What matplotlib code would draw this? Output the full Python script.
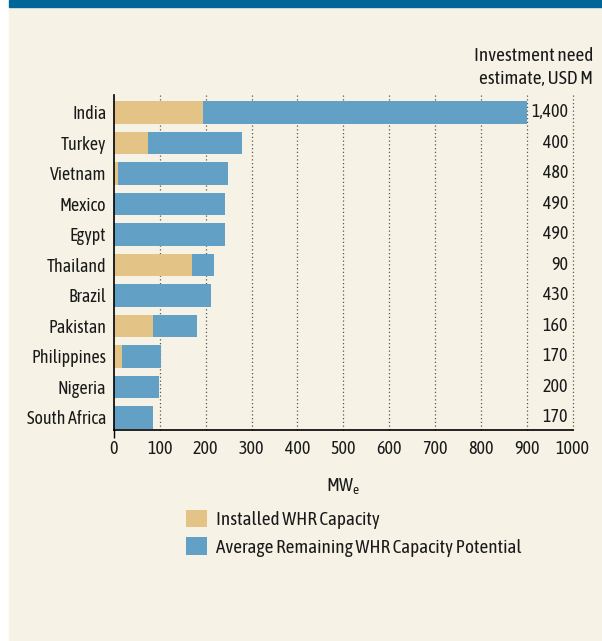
import matplotlib.pyplot as plt
from matplotlib.patches import Rectangle

plt.rcParams['font.family'] = ['Asap Condensed', 'Archivo Narrow', 'DejaVu Sans']
plt.rcParams['mathtext.fontset'] = 'custom'
plt.rcParams['mathtext.rm'] = 'Asap Condensed'

# data (MWe)
countries = ['India', 'Turkey', 'Vietnam', 'Mexico', 'Egypt', 'Thailand',
             'Brazil', 'Pakistan', 'Philippines', 'Nigeria', 'South Africa']
installed = [195, 75, 8, 0, 0, 170, 0, 85, 17, 0, 0]
remaining = [705, 203, 240, 242, 242, 47, 211, 96, 85, 98, 85]
investment = ['1,400', '400', '480', '490', '490', '90', '430', '160', '170', '200', '170']
xticks = [0, 100, 200, 300, 400, 500, 600, 700, 800, 900, 1000]

tan = '#E3C386'
blue = '#62A0C6'
cream = '#F6F2E6'
ink = '#1a1a1a'
fs = 13
fs_big = 13.8

fig = plt.figure(figsize=(6.02, 6.41), dpi=100, facecolor='white')
# background panel and top band
fig.patches.append(Rectangle((9 / 602, 0), 1 - 9 / 602, 1 - 7 / 641,
                             transform=fig.transFigure, color=cream, zorder=-10))
fig.patches.append(Rectangle((9 / 602, 1 - 7 / 641), 1 - 9 / 602, 7 / 641,
                             transform=fig.transFigure, color='#00669A', zorder=-10))

ax = fig.add_axes([114 / 602, 1 - 430 / 641, 458.7 / 602, 335 / 641])
ax.set_facecolor('none')

y = list(range(len(countries)))
b1 = ax.barh(y, installed, height=0.74, color=tan, zorder=2,
             label='Installed WHR Capacity')
b2 = ax.barh(y, remaining, left=installed, height=0.74, color=blue, zorder=2,
             label='Average Remaining WHR Capacity Potential')

for yi, s in zip(y, investment):
    ax.text(990, yi, s, ha='right', va='center', fontsize=fs, color=ink, zorder=3)

ax.set_xlim(0, 1000)
ax.set_ylim(10.41, -0.57)
ax.set_yticks(y)
ax.set_yticklabels(countries, fontsize=fs, color=ink)
ax.set_xticks(xticks)
ax.set_xticklabels([str(v) for v in xticks], fontsize=fs, color=ink)
ax.tick_params(axis='y', length=0, pad=5.5)
ax.tick_params(axis='x', length=6, width=1, pad=1.5)
for i, t in enumerate(ax.xaxis.get_major_ticks()):
    t.tick1line.set_visible(i == 0)

for v in xticks[1:]:
    ax.axvline(v, color='#555555', lw=0.9, ls=(0, (1, 2)), zorder=1, clip_on=False)

ax.spines['top'].set_visible(False)
ax.spines['right'].set_visible(False)
ax.spines['left'].set_linewidth(1.2)
ax.spines['bottom'].set_linewidth(1.2)

ax.set_xlabel('MW$_{\\mathrm{e}}$', fontsize=fs_big, color=ink, labelpad=13)

# column heading for the investment figures
fig.text(593 / 602, 1 - 61 / 641, 'Investment need', ha='right', va='baseline',
         fontsize=fs_big, color=ink)
fig.text(593 / 602, 1 - 84 / 641, 'estimate, USD M', ha='right', va='baseline',
         fontsize=fs_big, color=ink)

fig.legend(handles=[b1, b2], loc='upper left', bbox_to_anchor=(186 / 602, 1 - 510 / 641),
           frameon=False, fontsize=fs_big, handlelength=1.1, handleheight=1.0,
           handletextpad=0.47, labelspacing=0.43, borderpad=0, borderaxespad=0,
           labelcolor=ink)

fig.savefig('out.png', dpi=100, facecolor='white')
